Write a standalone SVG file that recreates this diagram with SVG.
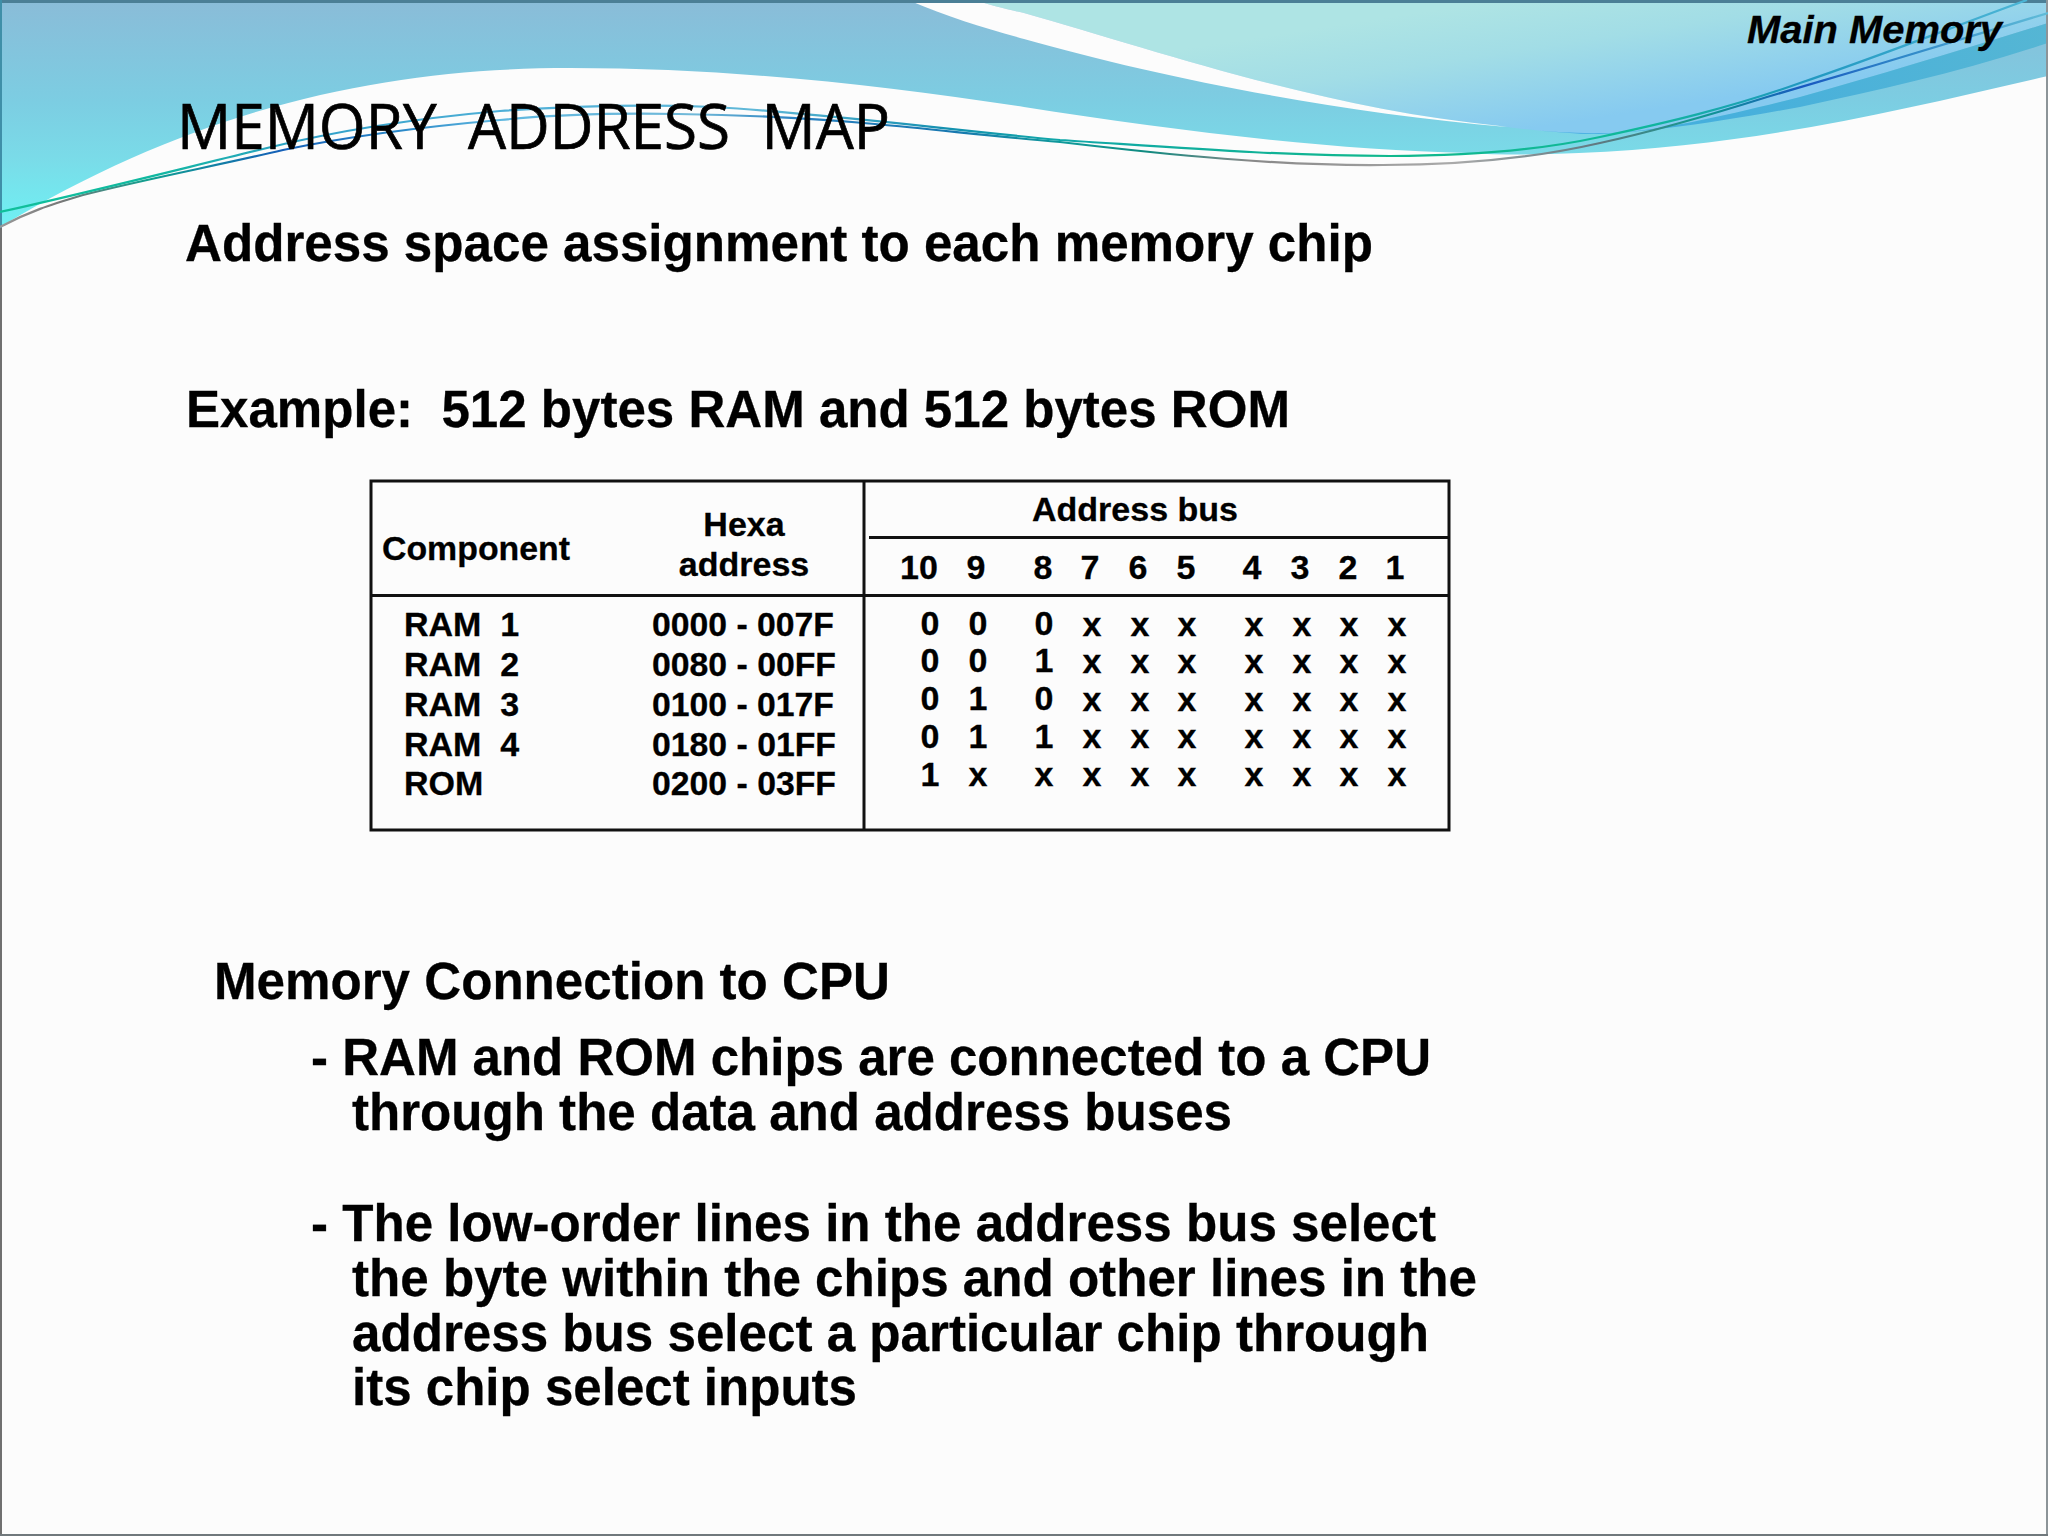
<svg xmlns="http://www.w3.org/2000/svg" width="2048" height="1536" viewBox="0 0 2048 1536">
<style>
text{font-family:"Liberation Sans",Arial,sans-serif;font-weight:700;fill:#000;stroke:#000;stroke-width:.3;white-space:pre}
.t{font-size:34px}
.c{text-anchor:middle}
.h{font-size:51px}
.r{fill:none;stroke:#111;stroke-width:3}
.l{fill:none;stroke-width:2.2}
</style>
<defs>
<linearGradient id="bg1" gradientUnits="userSpaceOnUse" x1="0" y1="0" x2="0" y2="225"><stop offset="0" stop-color="#8abcd8"/><stop offset=".45" stop-color="#7ccde2"/><stop offset=".7" stop-color="#7adbe8"/><stop offset="1" stop-color="#6ff0f3"/></linearGradient>
<linearGradient id="up" gradientUnits="userSpaceOnUse" x1="1500" y1="0" x2="1520" y2="130"><stop offset="0" stop-color="#aee4e4"/><stop offset=".4" stop-color="#a2dde6"/><stop offset="1" stop-color="#86caf0"/></linearGradient>
<linearGradient id="dark" gradientUnits="userSpaceOnUse" x1="1500" y1="130" x2="2048" y2="30"><stop offset="0" stop-color="#3dabe2"/><stop offset="1" stop-color="#55b6d4"/></linearGradient>
<linearGradient id="green" gradientUnits="userSpaceOnUse" x1="0" y1="0" x2="2048" y2="0"><stop offset="0" stop-color="#10c09a"/><stop offset=".075" stop-color="#10b8a0"/><stop offset=".15" stop-color="#30a0c8"/><stop offset=".25" stop-color="#50b0d8"/><stop offset=".37" stop-color="#60b8d8"/><stop offset=".46" stop-color="#1590b0"/><stop offset=".52" stop-color="#10a8a8"/><stop offset=".68" stop-color="#10b88c"/><stop offset=".8" stop-color="#10b89a"/><stop offset=".88" stop-color="#2098c0"/><stop offset="1" stop-color="#50b8d8"/></linearGradient>
<linearGradient id="gray" gradientUnits="userSpaceOnUse" x1="0" y1="0" x2="2048" y2="0"><stop offset="0" stop-color="#999"/><stop offset=".03" stop-color="#777"/><stop offset=".073" stop-color="#10a090"/><stop offset=".137" stop-color="#1560b8"/><stop offset=".195" stop-color="#2a88c8"/><stop offset=".245" stop-color="#60b8e0"/><stop offset=".34" stop-color="#70b8d8"/><stop offset=".39" stop-color="#2880c0"/><stop offset=".465" stop-color="#1878b0"/><stop offset=".52" stop-color="#109a9a"/><stop offset=".56" stop-color="#108a80"/><stop offset=".61" stop-color="#888"/><stop offset=".71" stop-color="#aaa"/><stop offset=".78" stop-color="#607880"/><stop offset=".83" stop-color="#109a90"/><stop offset=".88" stop-color="#1858c0"/><stop offset=".93" stop-color="#3088c8"/><stop offset="1" stop-color="#60bcd8"/></linearGradient>
</defs>
<rect width="2048" height="1536" fill="#fcfcfc"/>
<g id="background">
<path fill="url(#bg1)" d="M0,0H2048V76C1900,110 1760,145 1579,153C1540,155 1500,155 1468,153C1330,150 1170,130 1024,107C880,85 730,68 570,68C400,68 210,100 0,227Z"/>
<path fill="url(#up)" d="M975,0H2048V23C1960,50 1880,75 1800,97C1740,112 1660,132 1599,134C1570,134 1540,131 1507,127L1500,126C1320,108 1155,50 1024,13C1005,9 990,5 975,0Z"/>
<path fill="#fcfcfc" d="M908,0H975C990,5 1005,9 1024,13C1155,50 1320,108 1500,126L1507,127C1330,112 1155,76 1024,39C985,28 950,18 908,0Z"/>
<path fill="url(#dark)" d="M1507,127C1540,131 1570,134 1599,134C1660,132 1740,112 1800,97C1880,75 1960,50 2048,23V43C1960,72 1880,90 1800,107C1750,116 1710,123 1667,128C1610,136 1560,134 1507,127Z"/>
<rect x="0" y="0" width="2048" height="3" fill="#4b7f96"/>
<rect x="0" y="0" width="2" height="228" fill="#3f8fa8"/>
<rect x="0" y="228" width="2" height="1308" fill="#707070"/>
<rect x="2046" y="0" width="2" height="1536" fill="#8c9498"/>
<rect x="0" y="1534" width="2048" height="2" fill="#70787c"/>
</g>
<g id="lines">
<path class="l" stroke="url(#gray)" d="M0,227C30,211 50,205 83,195C150,178 220,165 283,150C350,136 420,127 500,120C560,114 620,113 678,114C745,115 810,118 875,124C940,130 1000,137 1060,142C1170,155 1280,166 1383,165C1460,165 1530,159 1600,143C1660,130 1710,115 1767,97C1860,70 1960,40 2048,13"/>
<path class="l" stroke="url(#green)" d="M0,212C90,192 180,169 267,148C340,130 420,118 500,111C570,106 640,104 714,107C830,114 950,130 1060,140C1170,147 1280,156 1390,156C1470,156 1540,150 1600,137C1665,123 1730,108 1800,83C1880,56 1950,28 2027,0"/>
</g>
<g id="headings">
<text x="177" y="149" textLength="713" lengthAdjust="spacingAndGlyphs" style="font-family:'Open Sans','Liberation Sans',sans-serif;font-weight:400;font-size:62px;stroke-width:.7">MEMORY  ADDRESS  MAP</text>
<text x="1747" y="43" textLength="255" lengthAdjust="spacingAndGlyphs" style="font-style:italic;font-size:39px">Main Memory</text>
<text class="h" x="185" y="261" textLength="1188" lengthAdjust="spacingAndGlyphs">Address space assignment to each memory chip</text>
<text class="h" x="186" y="427" textLength="1104" lengthAdjust="spacingAndGlyphs">Example:  512 bytes RAM and 512 bytes ROM</text>
</g>
<g id="table">
<rect class="r" x="371" y="481" width="1078" height="349"/>
<path class="r" d="M864,481V830M371,595.5H1449M869,537.5H1449"/>
<g id="table-head">
<text class="t" x="382" y="560" textLength="188" lengthAdjust="spacingAndGlyphs">Component</text>
<text class="t c" x="744" y="536">Hexa</text>
<text class="t c" x="744" y="576">address</text>
<text class="t c" x="1135" y="521">Address bus</text>
</g>
<g id="rows-left">
<text class="t" x="404" y="636">RAM  1</text>
<text class="t" x="404" y="676">RAM  2</text>
<text class="t" x="404" y="716">RAM  3</text>
<text class="t" x="404" y="756">RAM  4</text>
<text class="t" x="404" y="795">ROM</text>
<text class="t" x="652" y="636" textLength="182" lengthAdjust="spacingAndGlyphs">0000 - 007F</text>
<text class="t" x="652" y="676" textLength="184" lengthAdjust="spacingAndGlyphs">0080 - 00FF</text>
<text class="t" x="652" y="716" textLength="182" lengthAdjust="spacingAndGlyphs">0100 - 017F</text>
<text class="t" x="652" y="756" textLength="184" lengthAdjust="spacingAndGlyphs">0180 - 01FF</text>
<text class="t" x="652" y="795" textLength="184" lengthAdjust="spacingAndGlyphs">0200 - 03FF</text>
</g>
<g id="bit-header">
<text class="t c" x="919" y="579">10</text><text class="t c" x="976" y="579">9</text><text class="t c" x="1043" y="579">8</text><text class="t c" x="1090" y="579">7</text><text class="t c" x="1138" y="579">6</text><text class="t c" x="1186" y="579">5</text><text class="t c" x="1252" y="579">4</text><text class="t c" x="1300" y="579">3</text><text class="t c" x="1348" y="579">2</text><text class="t c" x="1395" y="579">1</text>
</g>
<g id="bit-rows">
<text class="t c" x="930" y="635">0</text><text class="t c" x="978" y="635">0</text><text class="t c" x="1044" y="635">0</text><text class="t c" x="1092" y="636">x</text><text class="t c" x="1140" y="636">x</text><text class="t c" x="1187" y="636">x</text><text class="t c" x="1254" y="636">x</text><text class="t c" x="1302" y="636">x</text><text class="t c" x="1349" y="636">x</text><text class="t c" x="1397" y="636">x</text>
<text class="t c" x="930" y="672">0</text><text class="t c" x="978" y="672">0</text><text class="t c" x="1044" y="672">1</text><text class="t c" x="1092" y="673">x</text><text class="t c" x="1140" y="673">x</text><text class="t c" x="1187" y="673">x</text><text class="t c" x="1254" y="673">x</text><text class="t c" x="1302" y="673">x</text><text class="t c" x="1349" y="673">x</text><text class="t c" x="1397" y="673">x</text>
<text class="t c" x="930" y="710">0</text><text class="t c" x="978" y="710">1</text><text class="t c" x="1044" y="710">0</text><text class="t c" x="1092" y="711">x</text><text class="t c" x="1140" y="711">x</text><text class="t c" x="1187" y="711">x</text><text class="t c" x="1254" y="711">x</text><text class="t c" x="1302" y="711">x</text><text class="t c" x="1349" y="711">x</text><text class="t c" x="1397" y="711">x</text>
<text class="t c" x="930" y="748">0</text><text class="t c" x="978" y="748">1</text><text class="t c" x="1044" y="748">1</text><text class="t c" x="1092" y="748">x</text><text class="t c" x="1140" y="748">x</text><text class="t c" x="1187" y="748">x</text><text class="t c" x="1254" y="748">x</text><text class="t c" x="1302" y="748">x</text><text class="t c" x="1349" y="748">x</text><text class="t c" x="1397" y="748">x</text>
<text class="t c" x="930" y="786">1</text><text class="t c" x="978" y="786">x</text><text class="t c" x="1044" y="786">x</text><text class="t c" x="1092" y="786">x</text><text class="t c" x="1140" y="786">x</text><text class="t c" x="1187" y="786">x</text><text class="t c" x="1254" y="786">x</text><text class="t c" x="1302" y="786">x</text><text class="t c" x="1349" y="786">x</text><text class="t c" x="1397" y="786">x</text>
</g>
</g>
<g id="body">
<text class="h" x="214" y="999" textLength="676" lengthAdjust="spacingAndGlyphs">Memory Connection to CPU</text>
<text class="h" x="311" y="1075" textLength="1120" lengthAdjust="spacingAndGlyphs">- RAM and ROM chips are connected to a CPU</text>
<text class="h" x="352" y="1130" textLength="880" lengthAdjust="spacingAndGlyphs">through the data and address buses</text>
<text class="h" x="311" y="1241" textLength="1125" lengthAdjust="spacingAndGlyphs">- The low-order lines in the address bus select</text>
<text class="h" x="352" y="1296" textLength="1125" lengthAdjust="spacingAndGlyphs">the byte within the chips and other lines in the</text>
<text class="h" x="352" y="1351" textLength="1077" lengthAdjust="spacingAndGlyphs">address bus select a particular chip through</text>
<text class="h" x="352" y="1405" textLength="505" lengthAdjust="spacingAndGlyphs">its chip select inputs</text>
</g>
</svg>
